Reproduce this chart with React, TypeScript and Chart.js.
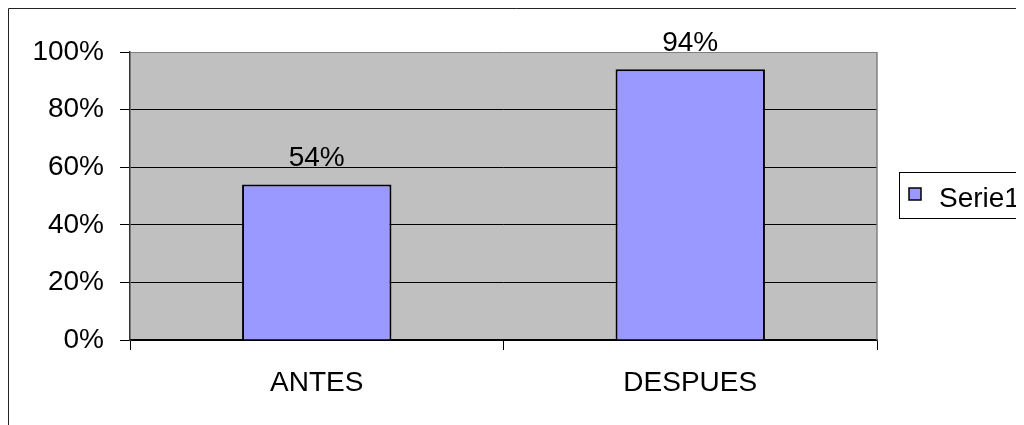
import React, { useEffect, useRef } from "react";
import { Chart, registerables } from "chart.js";

Chart.register(...registerables);

const categories = ["ANTES", "DESPUES"];
const seriesName = "Serie1";
const seriesValues = [54, 94];
const yTicks = [0, 20, 40, 60, 80, 100];

const FONT = '"Liberation Sans", Arial, sans-serif';
const BAR_COLOR = "#9999ff";

export default function App() {
  const ref = useRef<HTMLCanvasElement | null>(null);

  useEffect(() => {
    document.documentElement.style.overflow = "hidden";
    document.body.style.overflow = "hidden";
    const canvas = ref.current!;

    const framePlugin = {
      id: "frame",
      beforeDraw(chart: any) {
        const { ctx, chartArea: a, width, height } = chart;
        ctx.save();
        ctx.fillStyle = "#ffffff";
        ctx.fillRect(0, 0, width, height);
        ctx.strokeStyle = "#222222";
        ctx.lineWidth = 1;
        ctx.beginPath();
        ctx.moveTo(0.5, height);
        ctx.lineTo(0.5, 0.5);
        ctx.lineTo(width, 0.5);
        ctx.stroke();
        ctx.fillStyle = "#c0c0c0";
        ctx.fillRect(a.left, a.top, a.right - a.left, a.bottom - a.top);
        ctx.restore();
      },
      beforeDatasetsDraw(chart: any) {
        const { ctx, chartArea: a } = chart;
        ctx.save();
        ctx.strokeStyle = "#808080";
        ctx.lineWidth = 1.5;
        ctx.beginPath();
        ctx.moveTo(a.right, a.top);
        ctx.lineTo(a.right, a.bottom);
        ctx.stroke();
        ctx.restore();
      },
      afterDatasetsDraw(chart: any) {
        const { ctx } = chart;
        const meta = chart.getDatasetMeta(0);
        ctx.save();
        ctx.font = `28px ${FONT}`;
        ctx.fillStyle = "#000000";
        ctx.textAlign = "center";
        ctx.textBaseline = "alphabetic";
        meta.data.forEach((bar: any, i: number) => {
          ctx.fillText(`${seriesValues[i]}%`, bar.x, bar.y - 18);
        });
        ctx.restore();
      },
      afterDraw(chart: any) {
        const { ctx, width } = chart;
        ctx.save();
        const lx = 891, ly = 164, lh = 46;
        ctx.strokeStyle = "#000000";
        ctx.lineWidth = 1;
        ctx.strokeRect(lx + 0.5, ly + 0.5, width - lx + 5, lh);
        ctx.fillStyle = BAR_COLOR;
        ctx.fillRect(901, 180, 12, 12);
        ctx.lineWidth = 1.5;
        ctx.strokeRect(901, 180, 12, 12);
        ctx.fillStyle = "#000000";
        ctx.font = `28px ${FONT}`;
        ctx.textAlign = "left";
        ctx.textBaseline = "alphabetic";
        ctx.fillText(seriesName, 931, 199);
        ctx.restore();
      },
    };

    const chart = new Chart(canvas, {
      type: "bar",
      data: {
        labels: categories,
        datasets: [
          {
            label: seriesName,
            data: seriesValues,
            backgroundColor: BAR_COLOR,
            borderColor: "#000000",
            borderWidth: 2,
            barPercentage: 0.4,
            categoryPercentage: 1,
          },
        ],
      },
      options: {
        responsive: false,
        animation: false,
        layout: { padding: { top: 44, right: 147, bottom: 0, left: 0 } },
        plugins: {
          legend: { display: false },
          tooltip: { enabled: false },
        },
        scales: {
          x: {
            offset: true,
            grid: {
              offset: true,
              drawOnChartArea: false,
              drawTicks: true,
              tickLength: 10,
              tickColor: "#000000",
              color: "#000000",
            },
            border: { display: true, color: "#000000", width: 1.5 },
            ticks: {
              color: "#000000",
              font: { family: FONT, size: 28 },
              padding: 16,
              maxRotation: 0,
            },
            afterFit(scale: any) {
              scale.height = 85;
            },
          },
          y: {
            min: 0,
            max: 100,
            afterBuildTicks(scale: any) {
              scale.ticks = yTicks.map((v) => ({ value: v }));
            },
            grid: {
              color: (c: any) => (c.tick && c.tick.value === 100 ? "#808080" : "#000000"),
              tickColor: "#000000",
              tickLength: 10,
              lineWidth: 1,
            },
            border: { display: true, color: "#333333", width: 1.5 },
            ticks: {
              color: "#000000",
              font: { family: FONT, size: 28 },
              padding: 16,
              callback: (v: any) => `${v}%`,
            },
            afterFit(scale: any) {
              scale.width = 122;
            },
          },
        },
      },
      plugins: [framePlugin],
    });

    return () => chart.destroy();
  }, []);

  return (
    <canvas
      ref={ref}
      width={1016}
      height={417}
      style={{ display: "block", width: 1016, height: 417 }}
    />
  );
}
